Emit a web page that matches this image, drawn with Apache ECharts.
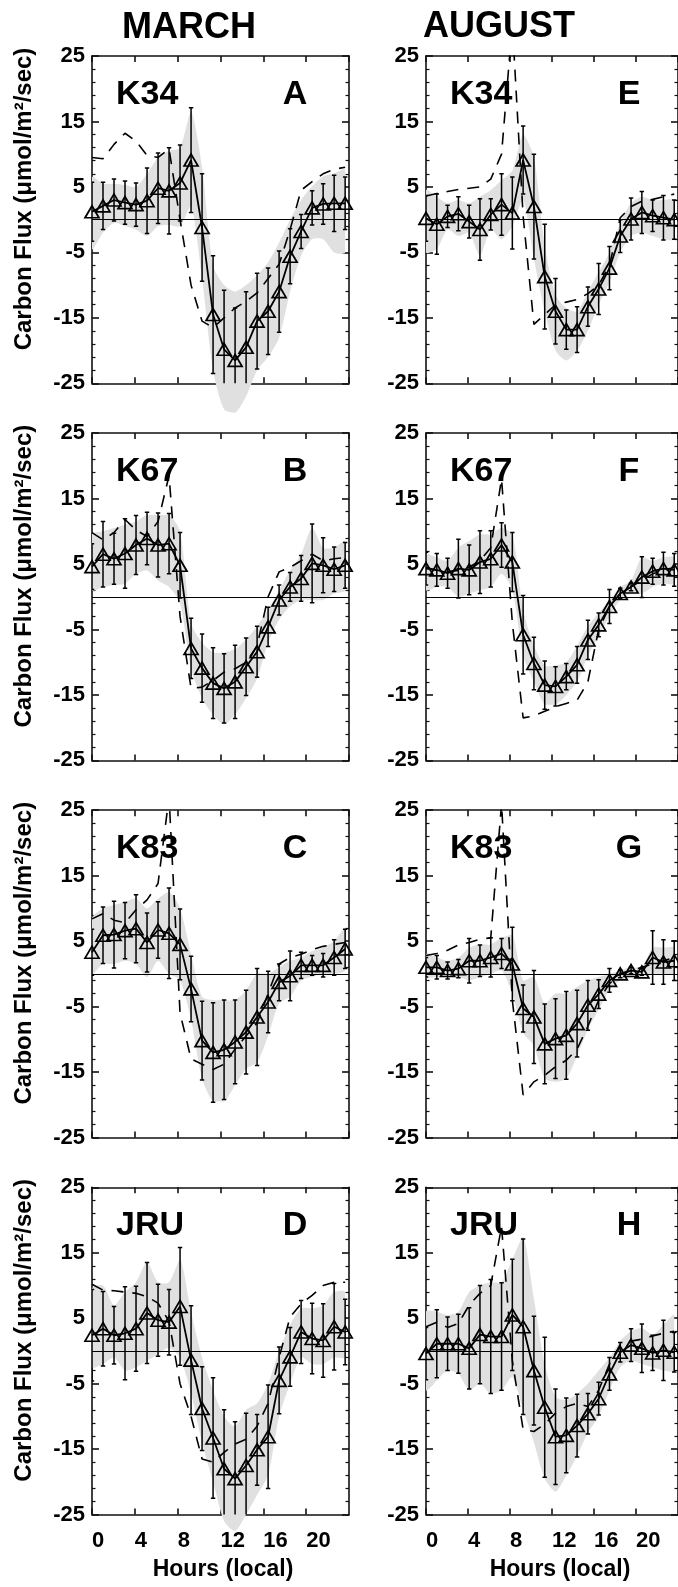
<!DOCTYPE html>
<html><head><meta charset="utf-8">
<script src="https://cdn.jsdelivr.net/npm/echarts@6/dist/echarts.min.js"></script>
<style>html,body{margin:0;padding:0;background:#fff}#c{width:678px;height:1587px}</style>
</head><body><div id="c"></div>
<script>
// ---------------- data ----------------
const HOURS = [0,1,2,3,4,5,6,7,8,9,10,11,12,13,14,15,16,17,18,19,20,21,22,23];
const X_TICKS = [0,4,8,12,16,20];
const Y_TICKS = [-25,-15,-5,5,15,25];
const COLUMN_TITLES = ['MARCH', 'AUGUST'];

// Panel A  K34 March
const A_mean  = [1.2,2.1,3.0,2.6,2.3,2.9,4.8,4.4,5.6,9.1,-1.2,-14.5,-19.8,-21.5,-19.5,-15.5,-14.0,-11.0,-5.6,-1.8,1.8,2.4,2.5,2.5];
const A_err   = [4.5,3.6,3.2,3.3,3.3,5.0,5.4,6.6,5.8,8.0,8.2,9.0,9.0,8.0,8.5,7.3,6.6,6.2,4.2,2.6,2.6,3.1,4.3,4.0];
const A_lo    = [-4.5,-2.0,-0.5,-1.0,-1.5,-2.5,-1.0,-0.8,-1.0,2.0,-9.0,-23.0,-29.0,-29.5,-27.0,-23.0,-21.0,-18.0,-11.0,-5.5,-3.0,-3.0,-5.0,-5.0];
const A_hi    = [6.5,5.5,5.5,5.3,5.0,7.0,9.5,10.5,11.0,16.5,8.0,-7.0,-10.0,-11.0,-10.0,-8.5,-6.5,-3.5,0.0,3.0,5.1,6.6,7.1,7.6];
const A_model = [9.5,9.3,11.5,13.2,12.0,9.8,9.5,10.8,0.0,-10.0,-15.5,-16.5,-15.0,-13.5,-12.5,-11.2,-9.0,-6.8,-1.5,4.5,5.8,7.0,7.7,8.0];

// Panel B  K67 March
const B_mean  = [4.6,6.5,5.8,6.6,7.9,8.9,7.9,8.1,4.8,-7.9,-10.9,-13.2,-14.0,-13.0,-10.7,-8.4,-4.6,-0.5,1.5,2.8,5.1,4.8,4.2,4.8];
const B_err   = [3.5,5.0,3.9,5.3,4.5,4.0,4.9,4.6,5.0,4.6,5.2,5.4,5.3,5.6,4.4,3.9,3.0,2.3,2.2,3.5,6.0,4.2,3.4,3.5];
const B_lo    = [1.0,1.5,1.8,2.0,3.5,4.0,2.5,1.5,-1.0,-11.0,-15.5,-18.0,-19.5,-18.0,-15.5,-12.5,-7.0,-3.5,-1.5,-0.5,-0.5,-0.5,0.5,1.0];
const B_hi    = [9.5,10.0,10.5,11.0,11.5,12.5,12.5,12.5,10.0,-4.0,-7.0,-8.5,-8.5,-8.0,-6.5,-4.5,-2.0,1.0,4.0,6.5,10.5,7.5,7.5,8.5];
const B_model = [9.8,8.7,9.8,11.8,10.2,9.2,11.5,18.5,-3.0,-14.0,-13.8,-12.8,-11.5,-11.0,-10.0,-7.5,0.0,3.8,4.5,5.5,6.5,5.5,5.8,6.0];

// Panel C  K83 March
const C_mean  = [3.3,5.9,6.0,6.6,6.9,4.8,6.7,6.2,4.5,-2.3,-10.2,-12.0,-11.6,-10.4,-8.9,-6.6,-4.3,-1.3,-0.3,1.3,1.3,1.3,2.5,3.8];
const C_err   = [3.5,4.3,5.1,4.3,5.2,4.5,4.3,6.9,5.4,5.0,6.0,7.6,7.6,6.4,6.4,7.4,4.7,2.8,3.8,2.0,1.5,1.8,2.7,3.0];
const C_lo    = [0.0,1.5,1.5,2.0,1.5,-0.5,2.0,0.0,-1.0,-7.0,-16.0,-19.5,-19.5,-17.0,-14.5,-13.5,-9.5,-4.5,-3.5,-1.0,-0.5,0.0,0.0,0.5];
const C_hi    = [8.5,10.0,10.5,11.0,11.5,10.0,11.5,12.5,10.0,3.0,-3.5,-4.0,-4.0,-4.0,-2.5,0.0,0.0,1.0,2.0,2.5,3.5,4.0,5.0,7.0];
const C_model = [8.4,9.2,8.2,7.8,9.8,11.3,13.8,27.0,-6.0,-13.0,-13.8,-14.6,-13.8,-11.5,-9.5,-7.5,-3.0,1.5,2.5,3.0,3.7,4.2,4.5,4.8];

// Panel D  JRU March
const D_mean  = [2.4,3.4,2.4,2.7,3.4,5.8,4.7,4.4,6.8,-1.4,-8.8,-13.3,-18.0,-19.5,-17.5,-15.1,-13.1,-4.5,-0.9,2.9,1.9,1.6,3.7,2.9];
const D_err   = [7.0,5.7,4.4,7.1,6.5,7.7,5.5,5.0,9.0,8.3,6.4,9.2,9.0,8.7,8.0,5.4,7.9,5.1,4.5,4.8,5.4,5.6,6.6,5.0];
const D_lo    = [-2.5,-2.0,-1.0,-3.0,-2.5,-1.5,-0.5,0.5,-1.0,-6.5,-14.0,-20.0,-26.0,-27.5,-25.0,-22.0,-19.0,-10.0,-5.0,-1.0,-2.0,-2.0,-1.0,-1.0];
const D_hi    = [9.5,10.0,7.0,9.0,10.5,13.5,10.5,10.5,14.0,6.0,-1.0,-6.0,-10.0,-11.5,-9.0,-8.0,-5.0,0.0,4.0,6.5,6.5,7.0,9.0,9.0];
const D_model = [10.2,9.3,9.2,9.0,8.8,8.3,7.3,4.5,-5.0,-10.0,-16.5,-17.0,-15.5,-14.2,-13.5,-11.5,-8.0,-1.0,5.2,7.2,8.5,10.0,10.5,10.5];

// Panel E  K34 August
const E_mean  = [0.2,-0.7,0.5,0.9,-0.3,-1.5,0.8,2.3,1.0,9.1,2.0,-8.7,-14.0,-16.8,-16.8,-13.3,-10.6,-7.4,-2.5,0.1,1.1,0.6,0.3,0.0];
const E_err   = [3.5,4.6,1.7,2.6,2.5,4.7,2.4,4.7,5.5,5.2,8.0,8.0,5.0,3.0,3.5,3.0,3.9,3.3,2.5,3.2,3.2,2.4,3.4,3.0];
const E_lo    = [-5.0,-4.5,-1.5,-2.5,-2.0,-5.5,-1.5,-3.0,-1.0,3.0,-6.0,-14.0,-20.0,-21.5,-20.0,-17.0,-13.0,-9.5,-5.0,-2.5,-2.0,-2.5,-3.0,-3.0];
const E_hi    = [4.5,3.5,2.5,3.0,2.5,3.5,4.5,6.0,7.5,13.0,9.5,-4.0,-11.5,-13.5,-14.0,-11.0,-8.0,-5.0,-0.5,2.5,3.5,3.0,3.0,3.0];
const E_model = [3.6,4.0,4.3,4.6,4.8,5.0,6.2,10.0,30.0,0.5,-16.0,-14.5,-13.0,-12.6,-12.2,-11.3,-10.0,-7.0,0.3,2.0,2.8,3.1,3.5,3.9];

// Panel F  K67 August
const F_mean  = [4.3,4.1,3.6,4.3,4.1,5.3,5.8,7.9,5.3,-5.8,-10.2,-13.5,-13.7,-12.2,-10.4,-6.6,-4.3,-1.5,0.5,1.5,3.0,3.9,4.3,4.1];
const F_err   = [2.5,2.5,2.3,4.5,3.8,4.8,4.3,3.4,4.5,6.0,4.0,3.7,3.0,2.0,2.8,3.0,1.8,2.6,0.8,0.6,3.1,2.0,2.5,2.5];
const F_lo    = [1.0,1.5,1.5,0.0,0.5,1.0,1.5,3.5,1.0,-9.0,-13.0,-16.5,-16.5,-15.0,-13.0,-9.0,-6.0,-3.0,-0.5,0.5,0.5,1.5,2.0,2.0];
const F_hi    = [6.5,6.0,5.5,7.5,8.5,9.5,9.5,10.5,9.5,-2.0,-7.5,-10.5,-10.5,-10.0,-7.5,-4.5,-2.5,-0.5,1.5,2.5,6.0,5.5,6.0,6.0];
const F_model = [4.5,4.0,3.8,4.0,4.5,5.5,7.5,18.0,-4.0,-18.5,-18.2,-17.5,-16.8,-16.3,-15.8,-13.0,-5.0,-1.5,0.5,1.5,2.5,3.5,4.0,4.5];

// Panel G  K83 August
const G_mean  = [1.0,1.0,0.5,0.8,2.0,2.0,2.5,3.1,1.5,-5.3,-6.6,-10.7,-9.9,-9.4,-7.6,-4.8,-3.1,-1.0,0.0,0.5,0.3,2.5,1.8,2.0];
const G_err   = [1.5,1.8,1.3,1.4,3.4,2.4,3.0,2.3,5.6,3.6,7.1,6.1,6.1,6.7,5.1,3.8,2.2,1.8,0.6,0.5,0.5,4.1,3.4,3.0];
const G_lo    = [-0.5,-0.5,-0.5,-0.5,-1.0,-0.5,0.0,0.5,-3.0,-9.0,-11.0,-16.0,-16.5,-16.0,-12.5,-8.5,-5.5,-2.5,-1.0,-0.5,-0.5,0.0,0.0,0.0];
const G_hi    = [3.0,2.5,2.0,2.5,4.0,4.5,4.5,5.5,6.0,-1.0,-0.5,-4.5,-3.0,-3.0,-2.0,-1.0,-0.5,0.0,0.5,1.0,1.0,4.0,4.0,4.0];
const G_model = [2.8,3.1,3.6,4.4,4.8,5.3,5.5,26.0,-4.0,-18.5,-16.5,-15.5,-14.2,-13.2,-11.5,-8.0,-4.0,-1.5,0.0,0.5,1.0,1.5,2.0,2.5];

// Panel H  JRU August
const H_mean  = [-0.4,1.1,1.1,1.1,0.4,2.5,2.2,2.2,5.5,3.7,-3.0,-8.6,-13.1,-12.9,-11.4,-9.6,-7.3,-3.5,-0.2,0.9,0.4,-0.3,0.1,-0.2];
const H_err   = [4.0,5.2,4.1,4.5,6.2,7.5,8.7,8.2,8.5,13.4,8.3,10.7,7.3,5.7,4.8,3.1,2.5,2.5,1.5,2.5,3.7,2.7,4.6,3.0];
const H_lo    = [-6.0,-4.5,-3.0,-3.5,-6.0,-5.0,-6.5,-6.0,-4.0,-9.0,-14.0,-19.5,-21.5,-19.0,-16.0,-12.5,-10.0,-6.0,-2.5,-1.5,-2.0,-2.5,-3.0,-3.0];
const H_hi    = [6.0,6.0,5.5,6.0,9.0,10.0,10.5,10.5,14.0,17.5,8.0,-2.0,-7.0,-7.5,-6.5,-5.0,-3.0,-1.0,1.5,3.0,3.5,2.5,4.0,5.5];
const H_model = [3.7,4.4,3.6,4.2,7.0,8.8,10.0,19.0,-1.5,-12.0,-12.3,-11.2,-9.5,-8.5,-8.0,-8.5,-6.0,-2.0,1.0,1.5,1.8,2.3,2.7,3.0];

const PANELS = [
  {station:'K34', letter:'A', mean:A_mean, err:A_err, lo:A_lo, hi:A_hi, model:A_model, row:0, col:0},
  {station:'K67', letter:'B', mean:B_mean, err:B_err, lo:B_lo, hi:B_hi, model:B_model, row:1, col:0},
  {station:'K83', letter:'C', mean:C_mean, err:C_err, lo:C_lo, hi:C_hi, model:C_model, row:2, col:0},
  {station:'JRU', letter:'D', mean:D_mean, err:D_err, lo:D_lo, hi:D_hi, model:D_model, row:3, col:0},
  {station:'K34', letter:'E', mean:E_mean, err:E_err, lo:E_lo, hi:E_hi, model:E_model, row:0, col:1},
  {station:'K67', letter:'F', mean:F_mean, err:F_err, lo:F_lo, hi:F_hi, model:F_model, row:1, col:1},
  {station:'K83', letter:'G', mean:G_mean, err:G_err, lo:G_lo, hi:G_hi, model:G_model, row:2, col:1},
  {station:'JRU', letter:'H', mean:H_mean, err:H_err, lo:H_lo, hi:H_hi, model:H_model, row:3, col:1}
];

// ---------------- layout / style ----------------
const FONT = '"Liberation Sans", Arial, Helvetica, sans-serif';
const COL_LEFT = [92, 426];
const ROW_TOP0 = 56, ROW_STEP = 377.1, PW = 257, PH = 327.3;
const BAND = '#e0e0e0';
const AX = {color:'#111', width:1.6};

const grids = [], xAxes = [], yAxes = [], series = [], graphics = [];

function bandRender(lo, hi) {
  return function (params, api) {
    if (params.dataIndex !== 0) return null;
    const pts = [];
    for (let i = 0; i < HOURS.length; i++) pts.push(api.coord([HOURS[i], hi[i]]));
    for (let i = HOURS.length - 1; i >= 0; i--) pts.push(api.coord([HOURS[i], lo[i]]));
    return {type:'polygon', shape:{points:pts, smooth:0.25, smoothConstraint:[pts[0], pts[0]]}, style:{fill:BAND}};
  };
}
function errRender(params, api) {
  const x = api.value(0), y = api.value(1), e = api.value(2);
  const t = api.coord([x, y + e]), b = api.coord([x, y - e]);
  const c = 2.2, st = {stroke:'#000', lineWidth:1.5};
  return {type:'group', children:[
    {type:'line', shape:{x1:t[0], y1:t[1], x2:b[0], y2:b[1]}, style:st},
    {type:'line', shape:{x1:t[0]-c, y1:t[1], x2:t[0]+c, y2:t[1]}, style:st},
    {type:'line', shape:{x1:b[0]-c, y1:b[1], x2:b[0]+c, y2:b[1]}, style:st}
  ]};
}

PANELS.forEach((p, g) => {
  const left = COL_LEFT[p.col], top = ROW_TOP0 + p.row * ROW_STEP;
  grids.push({left:left, top:top, width:PW, height:PH, containLabel:false});
  const xd = xAxes.length;
  xAxes.push({gridIndex:g, type:'value', min:0, max:23.35, show:false});
  const xTickCommon = {
    gridIndex:g, type:'value', min:0, max:24, interval:4,
    axisLine:{show:true, onZero:false, lineStyle:AX},
    axisTick:{show:true, inside:true, length:6, lineStyle:AX},
    splitLine:{show:false}
  };
  xAxes.push(Object.assign({}, xTickCommon, {position:'bottom',
    axisLabel:{show:p.row === 3, align:'left', margin:15, fontSize:22, fontWeight:'bold', fontFamily:FONT, color:'#000',
      showMaxLabel:false, formatter:v => X_TICKS.includes(v) ? String(v) : ''}}));
  xAxes.push(Object.assign({}, xTickCommon, {position:'top', axisLabel:{show:false}}));
  const yl = yAxes.length;
  const yCommon = {
    gridIndex:g, type:'value', min:-25, max:25, interval:10,
    axisLine:{show:true, onZero:false, lineStyle:AX},
    axisTick:{show:true, inside:true, length:7, lineStyle:AX},
    minorTick:{show:true, splitNumber:5, length:3.5, lineStyle:{color:'#111', width:1.2}},
    splitLine:{show:false}, minorSplitLine:{show:false}
  };
  yAxes.push(Object.assign({}, yCommon, {position:'left',
    axisLabel:{show:true, margin:7, fontSize:22, fontWeight:'bold', fontFamily:FONT, color:'#000',
      formatter:v => Y_TICKS.includes(v) ? String(v) : ''}}));
  yAxes.push(Object.assign({}, yCommon, {position:'right', axisLabel:{show:false}}));

  series.push({type:'custom', xAxisIndex:xd, yAxisIndex:yl, renderItem:bandRender(p.lo, p.hi),
    data:[[HOURS[0], p.mean[0]]], clip:false, silent:true, z:1});
  series.push({type:'custom', xAxisIndex:xd, yAxisIndex:yl, renderItem:errRender,
    data:HOURS.map((h, i) => [h, p.mean[i], p.err[i]]), encode:{x:0, y:1}, clip:true, silent:true, z:3,
    markLine:{silent:true, symbol:'none', label:{show:false}, animation:false,
      lineStyle:{color:'#000', width:1.2, type:'solid'}, data:[{yAxis:0}]}});
  series.push({type:'line', xAxisIndex:xd, yAxisIndex:yl, data:HOURS.map((h, i) => [h, p.model[i]]),
    showSymbol:false, symbol:'none', clip:true, silent:true, z:4,
    lineStyle:{color:'#000', width:1.6, type:[12, 9]}});
  series.push({type:'line', xAxisIndex:xd, yAxisIndex:yl, data:HOURS.map((h, i) => [h, p.mean[i]]),
    symbol:'triangle', symbolSize:[14, 12], showSymbol:true, clip:true, silent:true, z:5,
    itemStyle:{color:'rgba(0,0,0,0)', borderColor:'#000', borderWidth:1.7},
    lineStyle:{color:'#000', width:1.8}});

  // panel labels
  const lblY = top + 38.5;
  graphics.push({type:'text', x:left + 24, y:lblY, silent:true,
    style:{text:p.station, fontSize:34, fontWeight:'bold', fontFamily:FONT, fill:'#000', align:'left', verticalAlign:'middle'}});
  graphics.push({type:'text', x:left + 203, y:lblY, silent:true,
    style:{text:p.letter, fontSize:34, fontWeight:'bold', fontFamily:FONT, fill:'#000', align:'center', verticalAlign:'middle'}});
  if (p.col === 0) {
    graphics.push({type:'text', x:24, y:top + 143, rotation:Math.PI / 2, silent:true,
      style:{text:'Carbon Flux (μmol/m²/sec)', fontSize:24, fontWeight:'bold', fontFamily:FONT, fill:'#000', align:'center', verticalAlign:'middle'}});
  }
  if (p.row === 3) {
    graphics.push({type:'text', x:left + (p.col === 0 ? 131 : 134), y:1569.5, silent:true,
      style:{text:'Hours (local)', fontSize:23, fontWeight:'bold', fontFamily:FONT, fill:'#000', align:'center', verticalAlign:'middle'}});
  }
});

graphics.push({type:'text', x:189, y:28, silent:true,
  style:{text:COLUMN_TITLES[0], fontSize:36, fontWeight:'bold', fontFamily:FONT, fill:'#000', align:'center', verticalAlign:'middle'}});
graphics.push({type:'text', x:499, y:27, silent:true,
  style:{text:COLUMN_TITLES[1], fontSize:36, fontWeight:'bold', fontFamily:FONT, fill:'#000', align:'center', verticalAlign:'middle'}});

const chart = echarts.init(document.getElementById('c'), null, {renderer:'canvas'});
chart.setOption({
  animation:false,
  backgroundColor:'#fff',
  grid:grids, xAxis:xAxes, yAxis:yAxes, series:series, graphic:graphics
});
</script>
</body></html>
